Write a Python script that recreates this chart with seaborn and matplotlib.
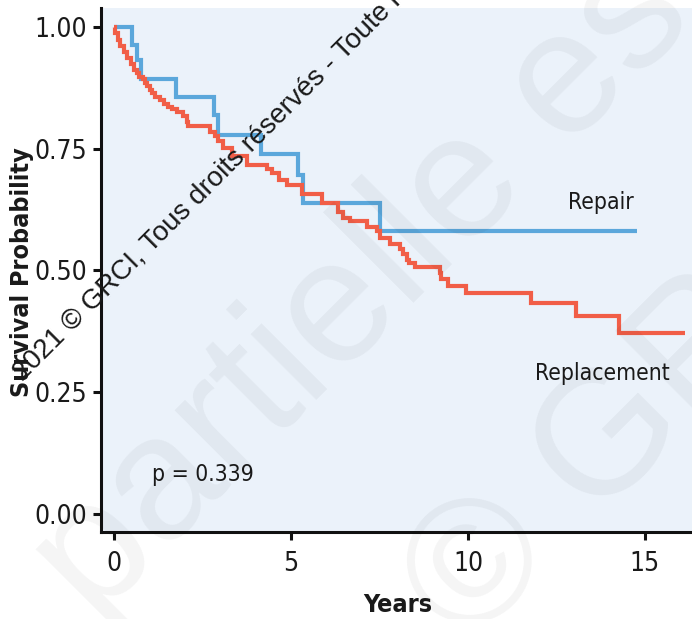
import matplotlib
matplotlib.use("Agg")
import matplotlib.pyplot as plt
from matplotlib import font_manager as fm
import seaborn as sns
import pandas as pd

# ---- data ----
repair_time = [0, 0.50, 0.66, 0.76, 1.75, 2.83, 2.93, 4.14, 5.20, 5.35, 7.51, 14.77]
repair_surv = [1.0, 0.963, 0.932, 0.893, 0.856, 0.819, 0.778, 0.739, 0.695, 0.638, 0.580, 0.580]

replacement_time = [0, 0.03, 0.11, 0.18, 0.28, 0.38, 0.47, 0.57, 0.66, 0.71,
                    0.81, 0.88, 0.93, 1.02, 1.07, 1.17, 1.30, 1.41, 1.53, 1.64,
                    1.78, 1.95, 2.05, 2.09, 2.71, 2.85, 2.95, 3.08, 3.33, 3.76,
                    4.32, 4.46, 4.65, 4.89, 5.31, 5.88, 6.33, 6.48, 6.67, 7.14,
                    7.43, 7.51, 7.80, 8.08, 8.17, 8.28, 8.33, 8.49, 9.20, 9.24,
                    9.44, 9.94, 11.77, 13.05, 14.28, 16.12]
replacement_surv = [1.0, .988, .973, .960, .949, .936, .924, .912, .906, .897,
                    .893, .885, .878, .871, .864, .857, .849, .842, .835, .831,
                    .825, .816, .805, .797, .785, .776, .766, .751, .734, .717,
                    .708, .699, .686, .676, .656, .638, .620, .607, .602, .589,
                    .580, .566, .554, .543, .533, .522, .515, .507, .495, .482,
                    .467, .454, .433, .407, .371, .371]

groups = ["Repair", "Replacement"]
x_ticks = [0, 5, 10, 15]
y_ticks = [0.00, 0.25, 0.50, 0.75, 1.00]
y_tick_labels = ["0.00", "0.25", "0.50", "0.75", "1.00"]
p_label = "p = 0.339"
x_title = "Years"
y_title = "Survival Probability"
small_watermark = "2021 © GRCI, Tous droits réservés - Toute reproduction, même partielle est interdite"

BLUE = "#5BA7DB"
RED = "#F15E47"
PANEL = "#EBF2FA"

sns.set_theme(style="ticks")

# pick a condensed face if one is installed
fonts = fm.fontManager.ttflist
names = {f.name for f in fonts}
stretch = "normal"
if "Liberation Sans Narrow" in names:
    fam = "Liberation Sans Narrow"; scale = 1.0
elif any(f.name == "DejaVu Sans" and str(f.stretch) in ("condensed", "semi-condensed", "75", "87.5")
         for f in fonts):
    fam = "DejaVu Sans"; stretch = "condensed"; scale = 0.82
elif "Roboto Condensed" in names:
    fam = "Roboto Condensed"; scale = 0.92
else:
    fam = "Liberation Sans"; scale = 0.86
narrow = [fam, "DejaVu Sans"]
arial = ["Liberation Sans", "DejaVu Sans"]
plt.rcParams["font.family"] = narrow
plt.rcParams["font.stretch"] = stretch

fig = plt.figure(figsize=(6.92, 6.19), dpi=100)
fig.patch.set_facecolor("white")
ax = fig.add_axes([0.1460, 0.1405, 0.8540, 0.8466])
ax.set_facecolor(PANEL)

df = pd.concat([
    pd.DataFrame({"Years": repair_time, "Survival": repair_surv, "Group": groups[0]}),
    pd.DataFrame({"Years": replacement_time, "Survival": replacement_surv, "Group": groups[1]}),
], ignore_index=True)

sns.lineplot(data=df, x="Years", y="Survival", hue="Group", hue_order=groups,
             palette={groups[0]: BLUE, groups[1]: RED},
             drawstyle="steps-post", estimator=None, linewidth=3.0,
             legend=False, ax=ax)
for ln in ax.lines:
    ln.set_solid_joinstyle("miter")
    ln.set_solid_capstyle("butt")

ax.set_xlim(-0.367, 16.33)
ax.set_ylim(-0.038, 1.039)
ax.set_xticks(x_ticks)
ax.set_xticklabels([str(v) for v in x_ticks])
ax.set_yticks(y_ticks)
ax.set_yticklabels(y_tick_labels)
ax.set_xlabel("")
ax.set_ylabel("")

for s in ["top", "right"]:
    ax.spines[s].set_visible(False)
for s in ["left", "bottom"]:
    ax.spines[s].set_linewidth(2.2)
    ax.spines[s].set_color("#111111")
ax.tick_params(axis="both", direction="out", length=6, width=2.2, color="#111111",
               labelsize=23 * scale, labelcolor="#1a1a1a", pad=4)
ax.tick_params(axis="x", pad=8)

# in-panel annotations
ax.text(13.76, 0.639, groups[0], ha="center", va="center", fontsize=20 * scale, color="#1a1a1a")
ax.text(13.81, 0.2875, groups[1], ha="center", va="center", fontsize=20 * scale, color="#1a1a1a")
ax.text(1.07, 0.08, p_label, ha="left", va="center", fontsize=20 * scale, color="#1a1a1a")

# axis titles
fig.text(22 / 692, 1 - 272 / 619, y_title, rotation=90, ha="center", va="center",
         fontsize=22 * scale, fontweight="bold", color="#1a1a1a")
fig.text(398 / 692, 1 - 605 / 619, x_title, ha="center", va="center",
         fontsize=22 * scale, fontweight="bold", color="#1a1a1a")

# faint large watermark
fig.text(0.1358, -0.0065, "partielle est interdite", rotation=45, rotation_mode="anchor",
         ha="left", va="baseline", fontsize=127, family=arial, stretch="normal",
         color="black", alpha=0.045, zorder=10)
fig.text(0.676, -0.050, "© GRCI", rotation=45, rotation_mode="anchor",
         ha="left", va="baseline", fontsize=127, family=arial, stretch="normal",
         color="black", alpha=0.045, zorder=10)

# small dark watermark
fig.text(0.0328, 0.383, small_watermark, rotation=45, rotation_mode="anchor",
         ha="left", va="baseline", fontsize=20, family=arial, stretch="normal",
         color="#1a1a1a", zorder=11)

fig.savefig("out.png", dpi=100)
